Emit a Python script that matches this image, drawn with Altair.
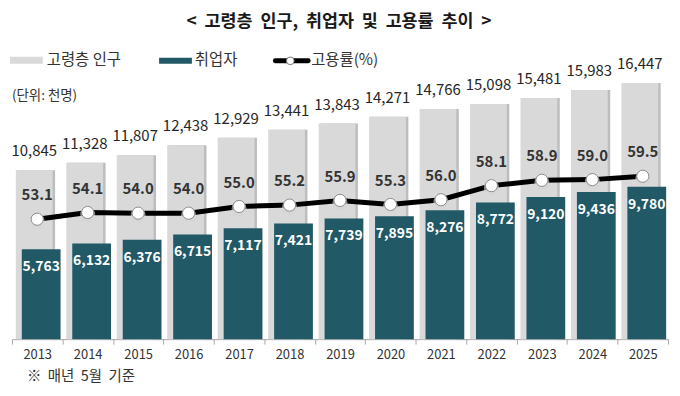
import altair as alt
import pandas as pd

years = ["2013", "2014", "2015", "2016", "2017", "2018", "2019", "2020", "2021", "2022", "2023", "2024", "2025"]
population = [10845, 11328, 11807, 12438, 12929, 13441, 13843, 14271, 14766, 15098, 15481, 15983, 16447]
employed = [5763, 6132, 6376, 6715, 7117, 7421, 7739, 7895, 8276, 8772, 9120, 9436, 9780]
rate = [53.1, 54.1, 54.0, 54.0, 55.0, 55.2, 55.9, 55.3, 56.0, 58.1, 58.9, 59.0, 59.5]

NB = "\u00a0"
title_text = [f"<{NB} 고령층{NB} 인구,{NB} 취업자{NB} 및{NB} 고용률{NB} 추이{NB} >"]
legend_labels = ["고령층 인구", "취업자", "고용률(%)"]
unit_text = ["(단위: 천명)"]
note_text = [f"※{NB} 매년{NB} 5월{NB} 기준"]

FONT = "Noto Sans CJK KR"
GRAY = "#d9d9d9"
SHADOW = "#bdbdbd"
TEAL = "#215966"

df = pd.DataFrame({"year": years, "pop": population, "emp": employed, "rate": rate})
df["pop_lbl"] = [f"{v:,}" for v in population]
df["emp_lbl"] = [f"{v:,}" for v in employed]
df["rate_lbl"] = [f"{v:.1f}" for v in rate]

W, H = 660, 260
xenc = alt.X("year:N", sort=years, title=None,
             scale=alt.Scale(paddingInner=0, paddingOuter=0),
             axis=alt.Axis(tickBand="extent", labelAngle=0, domainColor="#a6a6a6",
                           tickColor="#a6a6a6", tickSize=5, labelFontSize=13,
                           labelColor="#333333", labelFont=FONT, labelPadding=4))
ybar = alt.Y("pop:Q", scale=alt.Scale(domain=[0, 16586], nice=False, zero=True), axis=None)
yemp = alt.Y("emp:Q", scale=alt.Scale(domain=[0, 16586], nice=False), axis=None)

base = alt.Chart(df)

shadow = base.mark_bar(color=SHADOW, size=38, xOffset=-1).encode(x=xenc, y=ybar)
popbar = base.mark_bar(color=GRAY, size=37, xOffset=-3).encode(x=xenc, y=ybar)
empbar = base.mark_bar(color=TEAL, size=39, xOffset=4).encode(x=xenc, y=yemp)
poplbl = base.mark_text(font=FONT, fontSize=15, color="#262626", dx=-3, dy=-14,
                        baseline="alphabetic").encode(x=xenc, y=ybar, text="pop_lbl:N")
emplbl = base.mark_text(font=FONT, fontSize=14, fontWeight="bold", color="white",
                        dx=4, dy=18, baseline="middle").encode(x=xenc, y=yemp, text="emp_lbl:N")

# decorations
def label(texts, idx, x, y, size, weight="normal", align="left", color="#333333"):
    return alt.Chart(pd.DataFrame({"t": [texts[idx]]})).mark_text(
        font=FONT, fontSize=size, fontWeight=weight, color=color, align=align,
        baseline="middle").encode(x=alt.value(x), y=alt.value(y), text="t:N")

title = label(title_text, 0, 329, -59, 17.5, "bold", "center", "#1a1a1a")
unit = label(unit_text, 0, 0, 15, 13.5)
note = label(note_text, 0, 15, 298, 14.5)
leg1 = label(legend_labels, 0, 35, -21, 15.5)
leg2 = label(legend_labels, 1, 184, -21, 15.5)
leg3 = label(legend_labels, 2, 301, -21, 15.5)

leg_gray = alt.Chart(pd.DataFrame({"a": [0]})).mark_rect(color=GRAY).encode(
    x=alt.value(-2), x2=alt.value(31), y=alt.value(-24), y2=alt.value(-17))
leg_teal = alt.Chart(pd.DataFrame({"a": [0]})).mark_rect(color=TEAL).encode(
    x=alt.value(148), x2=alt.value(181), y=alt.value(-23), y2=alt.value(-17))
leg_line = alt.Chart(pd.DataFrame({"a": [0]})).mark_rule(
    color="black", strokeWidth=5, strokeCap="round").encode(
    x=alt.value(265), x2=alt.value(298), y=alt.value(-20))
leg_dot = alt.Chart(pd.DataFrame({"a": [0]})).mark_point(
    filled=True, fill="white", stroke="#777777", strokeWidth=1, size=60, opacity=1).encode(
    x=alt.value(280), y=alt.value(-20))

bars = alt.layer(shadow, popbar, empbar, poplbl, emplbl)

yrate = alt.Y("rate:Q", scale=alt.Scale(domain=[35.22, 73.74], nice=False, zero=False), axis=None)
line = base.mark_line(color="black", strokeWidth=5).encode(x=xenc, y=yrate)
halo = base.mark_point(filled=True, color="#d4d4d4", size=230, opacity=0.6, yOffset=2).encode(x=xenc, y=yrate)
dots = base.mark_point(filled=True, fill="white", stroke="#8a8a8a", strokeWidth=1,
                       size=150, opacity=1).encode(x=xenc, y=yrate)
ratelbl = base.mark_text(font=FONT, fontSize=15, fontWeight="bold", color="#333333",
                         dy=-24, baseline="middle").encode(x=xenc, y=yrate, text="rate_lbl:N")
rates = alt.layer(line, halo, dots, ratelbl)

decor = alt.layer(title, unit, note, leg1, leg2, leg3, leg_gray, leg_teal, leg_line, leg_dot)

chart = alt.layer(bars, rates, decor).resolve_scale(
    y="independent"
).properties(
    width=W, height=H,
    padding={"left": 4, "top": 72, "right": 4, "bottom": 50},
    autosize=alt.AutoSizeParams(type="none"),
    background="white",
).configure_view(stroke=None)

chart.save("out.html", embed_options={"renderer": "svg", "actions": False})
